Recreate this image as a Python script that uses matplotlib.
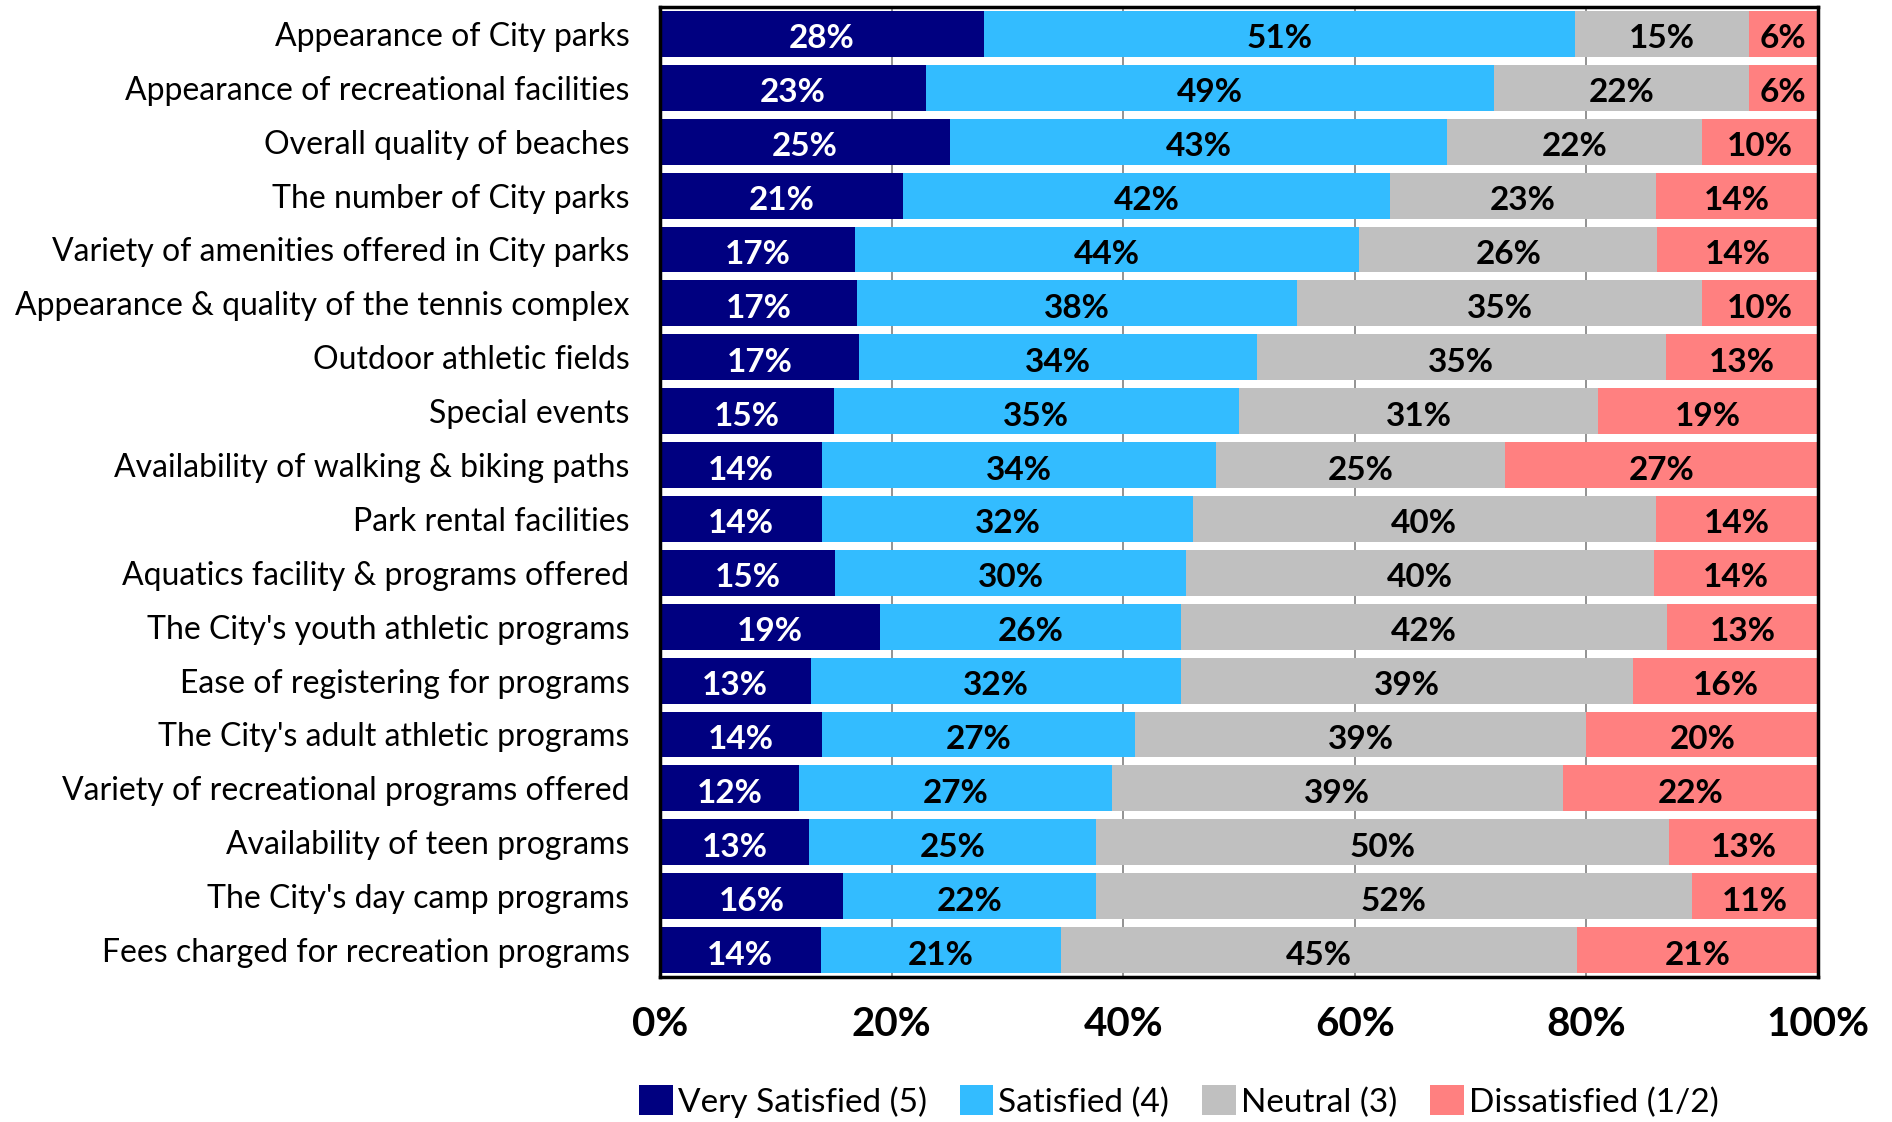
import matplotlib
matplotlib.use("Agg")
import matplotlib.pyplot as plt
import matplotlib.transforms as mtransforms
from matplotlib.patches import Patch
import numpy as np

plt.rcParams['font.family'] = ['Lato', 'DejaVu Sans']

categories = [
    "Appearance of City parks",
    "Appearance of recreational facilities",
    "Overall quality of beaches",
    "The number of City parks",
    "Variety of amenities offered in City parks",
    "Appearance & quality of the tennis complex",
    "Outdoor athletic fields",
    "Special events",
    "Availability of walking & biking paths",
    "Park rental facilities",
    "Aquatics facility & programs offered",
    "The City's youth athletic programs",
    "Ease of registering for programs",
    "The City's adult athletic programs",
    "Variety of recreational programs offered",
    "Availability of teen programs",
    "The City's day camp programs",
    "Fees charged for recreation programs",
]
very_satisfied = [28, 23, 25, 21, 17, 17, 17, 15, 14, 14, 15, 19, 13, 14, 12, 13, 16, 14]
satisfied      = [51, 49, 43, 42, 44, 38, 34, 35, 34, 32, 30, 26, 32, 27, 27, 25, 22, 21]
neutral        = [15, 22, 22, 23, 26, 35, 35, 31, 25, 40, 40, 42, 39, 39, 39, 50, 52, 45]
dissatisfied   = [6, 6, 10, 14, 14, 10, 13, 19, 27, 14, 14, 13, 16, 20, 22, 13, 11, 21]
series_names = ["Very Satisfied (5)", "Satisfied (4)", "Neutral (3)", "Dissatisfied (1/2)"]
colors = ["#000080", "#33BCFF", "#C0C0C0", "#FF8080"]
text_colors = ["white", "black", "black", "black"]
xticks = [0, 20, 40, 60, 80, 100]

data = np.array([very_satisfied, satisfied, neutral, dissatisfied], dtype=float)
totals = data.sum(axis=0)
shares = data / totals * 100.0

fig = plt.figure(figsize=(18.92, 11.22), dpi=100)
ax = fig.add_axes([660/1892, 1 - 977/1122, (1818-660)/1892, (977-7)/1122])

down = mtransforms.ScaledTranslation(0, -2.5/100, fig.dpi_scale_trans)

y = np.arange(len(categories))
left = np.zeros(len(categories))
for k in range(4):
    ax.barh(y, shares[k], left=left, height=0.85, color=colors[k], zorder=2)
    for i in range(len(categories)):
        ax.text(left[i] + shares[k][i] / 2, y[i], f"{int(data[k][i])}%",
                ha='center', va='center_baseline', color=text_colors[k],
                fontsize=24, fontweight='bold', zorder=3,
                transform=ax.transData + down)
    left += shares[k]

ax.set_xlim(0, 100)
ax.set_ylim(len(categories) - 0.5, -0.5)
ax.set_yticks(y)
ax.set_yticklabels(categories, fontsize=23)
for t in ax.get_yticklabels():
    t.set_va('center_baseline')
    t.set_transform(t.get_transform() + down)
ax.set_xticks(xticks)
ax.set_xticklabels([f"{t}%" for t in xticks], fontsize=29, fontweight='bold')
ax.tick_params(axis='y', length=0, pad=22)
ax.tick_params(axis='x', length=0, pad=21)
ax.xaxis.grid(True, color='#808080', linewidth=1.2, zorder=0)
ax.set_axisbelow(True)
for s in ax.spines.values():
    s.set_linewidth(2.5)
    s.set_color('black')

handles = [Patch(facecolor=c, edgecolor='none') for c in colors]
fig.legend(handles, series_names, loc='center', bbox_to_anchor=(977/1568, 1 - 913/930),
           ncol=4, frameon=False, fontsize=24, handlelength=1.0, handleheight=1.0,
           handletextpad=0.15, columnspacing=1.0, borderaxespad=0)

fig.savefig("out.png", dpi=100)
